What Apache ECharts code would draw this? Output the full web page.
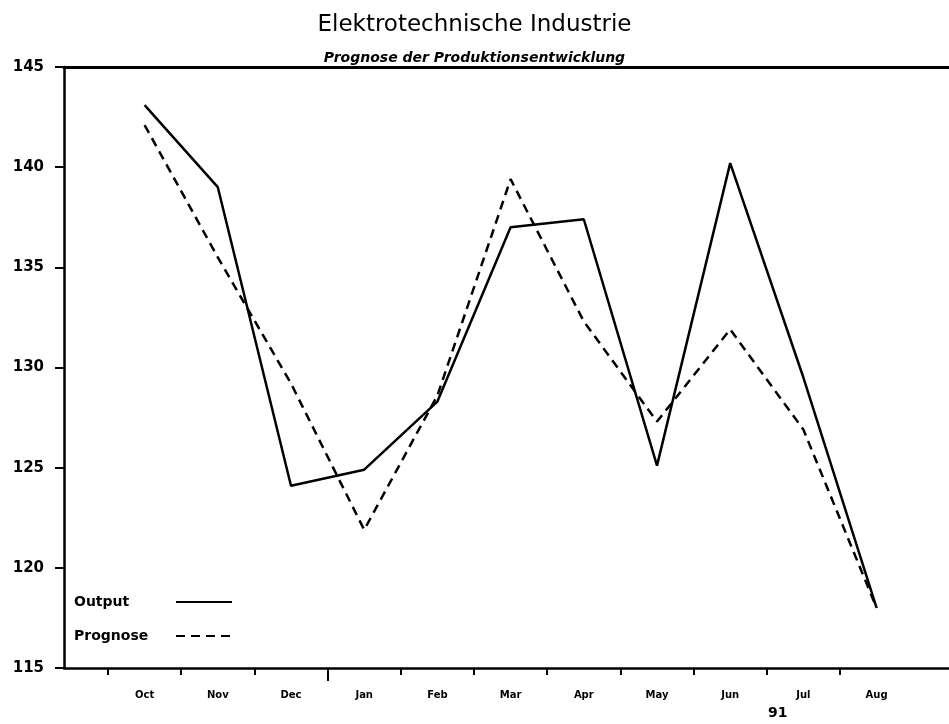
<!DOCTYPE html>
<html>
<head>
<meta charset="utf-8">
<script src="https://cdn.jsdelivr.net/npm/echarts@6/dist/echarts.min.js"></script>
<style>
  html, body { margin: 0; padding: 0; background: #fff; }
  #chart { width: 949px; height: 724px; }
</style>
</head>
<body>
<div id="chart"></div>
<script>
// months Oct 90 .. Aug 91
const months = ['Oct', 'Nov', 'Dec', 'Jan', 'Feb', 'Mar', 'Apr', 'May', 'Jun', 'Jul', 'Aug']
const output = [143.1, 139.0, 124.1, 124.9, 128.3, 137.0, 137.4, 125.1, 140.2, 129.5, 118.0]
const prognose = [142.1, 135.5, 129.2, 121.9, 128.6, 139.4, 132.3, 127.3, 131.9, 126.9, 118.0]
const yMin = 115
const yMax = 145
const yStep = 5
const yearMark = [3] // band boundary before Jan

// one empty band after Aug so no tick is drawn to the right of it
const cats = months.concat([''])
const font = 'DejaVu Sans'

const chart = echarts.init(document.getElementById('chart'), null, { renderer: 'canvas' })

const options = {
  backgroundColor: '#fff',
  animation: false,
  textStyle: { fontFamily: font, color: '#000' },
  title: {
    text: 'Elektrotechnische Industrie',
    subtext: 'Prognose der Produktionsentwicklung',
    left: 'center',
    top: 9,
    itemGap: 14,
    textStyle: { fontFamily: font, fontSize: 23, fontWeight: 'normal', color: '#000' },
    subtextStyle: { fontFamily: font, fontSize: 14, fontWeight: 'bold', fontStyle: 'italic', color: '#000' }
  },
  legend: {
    orient: 'vertical',
    left: 69,
    top: 590,
    align: 'right',
    itemWidth: 56,
    itemHeight: 14,
    itemGap: 20,
    itemStyle: { opacity: 0 },
    formatter: (name) => '{a|' + name + '}',
    textStyle: {
      fontFamily: font, fontSize: 14, fontWeight: 'bold', color: '#000',
      rich: { a: { width: 97, align: 'left', fontFamily: font, fontSize: 14, fontWeight: 'bold', color: '#000' } }
    },
    data: ['Output', 'Prognose']
  },
  grid: [
    { left: 64, right: 0, top: 67, bottom: 56, outerBoundsMode: 'none' },
    { left: 108, right: -37.4, top: 67, bottom: 56, outerBoundsMode: 'none' }
  ],
  xAxis: [
    {
      gridIndex: 0,
      type: 'value',
      position: 'bottom',
      axisLine: { show: true, lineStyle: { color: '#000', width: 2.5 } },
      axisTick: { show: false },
      axisLabel: { show: false },
      splitLine: { show: false }
    },
    {
      gridIndex: 1,
      type: 'category',
      position: 'bottom',
      data: cats,
      boundaryGap: true,
      axisLine: { show: false },
      axisTick: {
        show: true,
        interval: (i) => i < months.length,
        length: 7,
        lineStyle: { color: '#000', width: 2 }
      },
      axisLabel: {
        interval: 0,
        margin: 22,
        fontFamily: font,
        fontSize: 10,
        fontWeight: 'bold',
        color: '#000'
      },
      splitLine: { show: false }
    },
    {
      // longer tick marking the turn of the year
      gridIndex: 1,
      type: 'value',
      position: 'bottom',
      min: 0,
      max: cats.length,
      axisLine: { show: false },
      axisTick: {
        show: true,
        customValues: yearMark,
        length: 13,
        lineStyle: { color: '#000', width: 2 }
      },
      axisLabel: { show: false },
      splitLine: { show: false }
    },
    {
      gridIndex: 0,
      type: 'value',
      position: 'top',
      axisLine: { show: true, lineStyle: { color: '#000', width: 3 } },
      axisTick: { show: false },
      axisLabel: { show: false },
      splitLine: { show: false }
    }
  ],
  yAxis: [
    {
      gridIndex: 0,
      type: 'value',
      min: yMin,
      max: yMax,
      interval: yStep,
      axisLine: { show: true, lineStyle: { color: '#000', width: 2.5 } },
      axisTick: { show: true, length: 9, lineStyle: { color: '#000', width: 2 } },
      axisLabel: {
        margin: 20,
        fontFamily: font,
        fontSize: 15,
        fontWeight: 'bold',
        color: '#000'
      },
      splitLine: { show: false }
    },
    {
      gridIndex: 1,
      type: 'value',
      min: yMin,
      max: yMax,
      interval: yStep,
      show: false
    }
  ],
  graphic: [
    {
      type: 'text',
      left: 768,
      top: 706,
      style: { text: '91', font: 'bold 14px "DejaVu Sans"', fill: '#000' }
    }
  ],
  series: [
    {
      name: 'Output',
      type: 'line',
      xAxisIndex: 1,
      yAxisIndex: 1,
      data: output,
      symbol: 'none',
      lineStyle: { color: '#000', width: 2.5, type: 'solid' },
      itemStyle: { color: '#000' }
    },
    {
      name: 'Prognose',
      type: 'line',
      xAxisIndex: 1,
      yAxisIndex: 1,
      data: prognose,
      symbol: 'none',
      lineStyle: { color: '#000', width: 2.5, type: [9, 6] },
      itemStyle: { color: '#000' }
    }
  ]
}

chart.setOption(options)
</script>
</body>
</html>
